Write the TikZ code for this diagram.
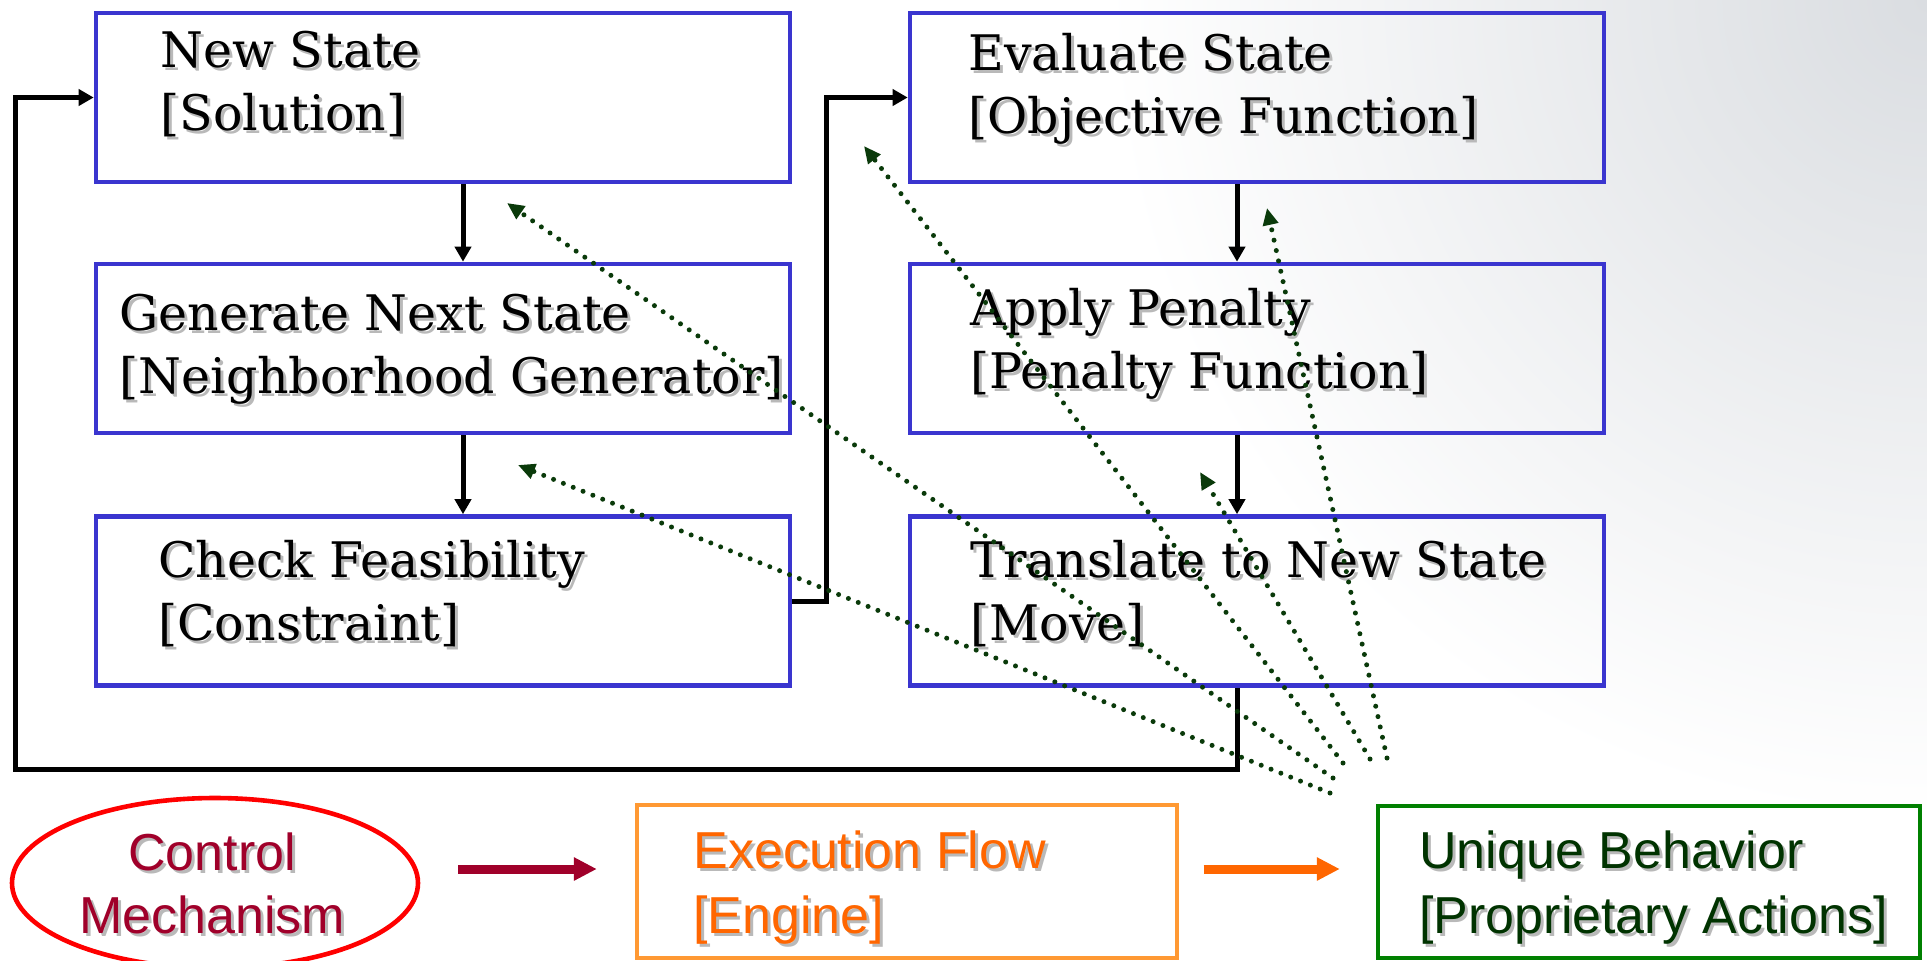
\documentclass[tikz,border=0pt]{standalone}
\usepackage{fontspec}
\setmainfont{DejaVu Serif}
\setsansfont{Liberation Sans}
\usetikzlibrary{arrows.meta,shapes.geometric,calc}

\definecolor{boxblue}{RGB}{58,53,207}
\definecolor{dotgreen}{RGB}{10,58,10}
\definecolor{ctrlred}{RGB}{160,0,42}
\definecolor{ellred}{RGB}{255,0,0}
\definecolor{engorange}{RGB}{255,102,0}
\definecolor{engframe}{RGB}{255,153,51}
\definecolor{behgreen}{RGB}{0,128,0}
\definecolor{behtext}{RGB}{0,51,0}
\definecolor{shadowgray}{RGB}{185,185,185}
\definecolor{bggray}{RGB}{218,221,225}

% text with a soft grey drop shadow
\newcommand\shd[1]{\leavevmode\rlap{\kern1.5pt\raisebox{-1.5pt}{\color{shadowgray}#1}}#1}

\begin{document}
\begin{tikzpicture}[x=0.5pt,y=-0.5pt,
  stepbox/.style={draw=boxblue,line width=2.3pt,minimum width=347pt,minimum height=84.5pt,inner sep=0pt},
  serif/.style={anchor=base west,inner sep=0pt,font=\fontsize{24.5pt}{29pt}\selectfont},
  sans/.style={inner sep=0pt,font=\sffamily\fontsize{26pt}{31pt}\selectfont},
  flow/.style={line width=2.5pt,-{Triangle[length=7.5pt,width=8pt]}},
  hint/.style={dotgreen,line width=2.5pt,line cap=round,dash pattern=on 0pt off 5.3pt,
               -{Triangle[length=8.5pt,width=7.5pt]}},
  bigarrow/.style={line width=4.5pt,-{Triangle[length=11.5pt,width=11pt]}}
]
\useasboundingbox (0,0) rectangle (1927,960);

% background with a light grey glow in the upper right corner
\begin{scope}
  \clip (0,0) rectangle (1927,960);
  \fill[white] (0,0) rectangle (1927,960);
  \shade[inner color=bggray,outer color=white] (1927,0) circle (820);
\end{scope}

% engine steps
\node[stepbox] (ns)  at (443,97.5)  {};
\node[stepbox] (gen) at (443,348.5) {};
\node[stepbox] (chk) at (443,601)   {};
\node[stepbox] (ev)  at (1257,97.5) {};
\node[stepbox] (ap)  at (1257,348.5){};
\node[stepbox] (tr)  at (1257,601)  {};

\node[serif] (ns-a)  at (160,67)  {\shd{New State}};
\node[serif] (ns-b)  at (160,130) {\shd{[Solution]}};
\node[serif] (gen-a) at (119,330) {\shd{Generate Next State}};
\node[serif] (gen-b) at (119,393) {\shd{[Neighborhood Generator]}};
\node[serif] (chk-a) at (158,577) {\shd{Check Feasibility}};
\node[serif] (chk-b) at (158,640) {\shd{[Constraint]}};
\node[serif] (ev-a)  at (968,70)  {\shd{Evaluate State}};
\node[serif] (ev-b)  at (968,133) {\shd{[Objective Function]}};
\node[serif] (ap-a)  at (970,325) {\shd{Apply Penalty}};
\node[serif] (ap-b)  at (970,388) {\shd{[Penalty Function]}};
\node[serif] (tr-a)  at (970,577) {\shd{Translate to New State}};
\node[serif] (tr-b)  at (970,640) {\shd{[Move]}};

% legend
\node[draw=ellred,line width=2.3pt,ellipse,minimum width=203pt,minimum height=85pt,inner sep=0pt]
  (ctrl) at (215,883) {};
\node[sans,anchor=base,text=ctrlred] (ctrl-a) at (212,870) {\shd{Control}};
\node[sans,anchor=base,text=ctrlred] (ctrl-b) at (212,933) {\shd{Mechanism}};

\node[draw=engframe,line width=2.2pt,minimum width=270pt,minimum height=76.5pt,inner sep=0pt]
  (exec) at (907,881.5) {};
\node[sans,anchor=base west,text=engorange] (exec-a) at (693,868) {\shd{Execution Flow}};
\node[sans,anchor=base west,text=engorange] (exec-b) at (693,933) {\shd{[Engine]}};

\node[draw=behgreen,line width=2.2pt,minimum width=271pt,minimum height=76pt,inner sep=0pt]
  (uniq) at (1649,882) {};
\node[sans,anchor=base west,text=behtext] (uniq-a) at (1419,868) {\shd{Unique Behavior}};
\node[sans,anchor=base west,text=behtext] (uniq-b) at (1419,933) {\shd{[Proprietary Actions]}};

\draw[bigarrow,ctrlred]   ($(ctrl.east)+(38,-14)$) -- ($(exec.west)+(-38,-12.5)$);
\draw[bigarrow,engorange] ($(exec.east)+(24.5,-12.5)$) -- ($(uniq.west)+(-36,-13)$);

% control flow between the steps
\draw[flow] ([xshift=10pt]ns.south)  -- ([xshift=10pt]gen.north);
\draw[flow] ([xshift=10pt]gen.south) -- ([xshift=10pt]chk.north);
\draw[flow] ([xshift=-10pt]ev.south) -- ([xshift=-10pt]ap.north);
\draw[flow] ([xshift=-10pt]ap.south) -- ([xshift=-10pt]tr.north);
\draw[flow] (chk.east) -| ($(ev.west)+(-81,0)$) -- (ev.west);
\coordinate (loopL) at (15,769);
\draw[flow,line join=miter] ([xshift=-10pt]tr.south) |- (loopL) |- (ns.west);

% proprietary actions reaching into the engine
\coordinate (hA0) at (1333,778); \coordinate (hA1) at (507,203);
\coordinate (hB0) at (1330,793); \coordinate (hB1) at (518,465);
\coordinate (hC0) at (1343,763); \coordinate (hC1) at (864,146);
\coordinate (hD0) at (1370,759); \coordinate (hD1) at (1200,472);
\coordinate (hE0) at (1387,758); \coordinate (hE1) at (1267,208);
\draw[hint] (hA0) -- (hA1);
\draw[hint] (hB0) -- (hB1);
\draw[hint] (hC0) -- (hC1);
\draw[hint] (hD0) -- (hD1);
\draw[hint] (hE0) -- (hE1);
\end{tikzpicture}
\end{document}
